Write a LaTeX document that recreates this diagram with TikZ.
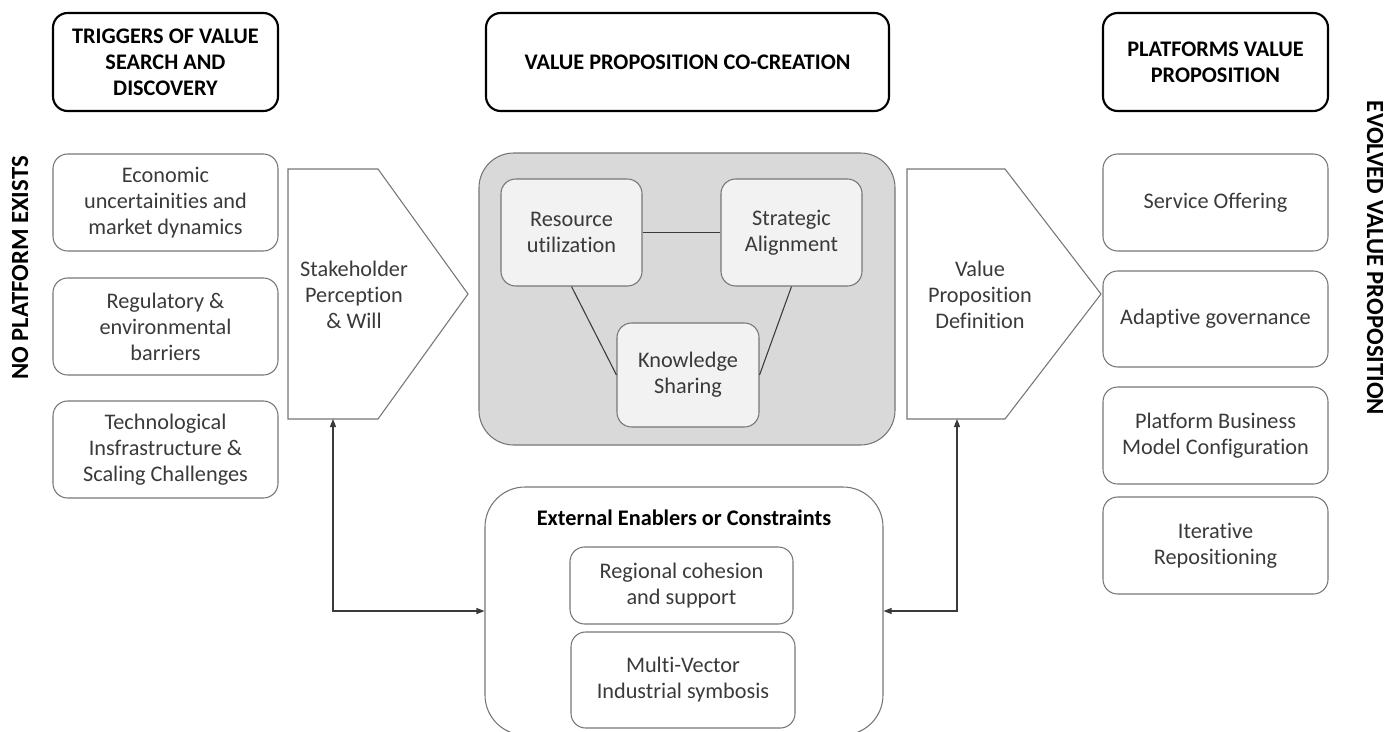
\documentclass[tikz,border=0pt]{standalone}
\usepackage{fontspec}
\setmainfont{Carlito}[Ligatures=NoCommon]
\usetikzlibrary{arrows.meta}
\definecolor{edge}{HTML}{767676}
\definecolor{txt}{HTML}{3A3A3A}
\definecolor{bigfill}{HTML}{D9D9D9}
\definecolor{smallfill}{HTML}{F2F2F2}
\begin{document}
\begin{tikzpicture}[x=0.75pt,y=-0.75pt,
  body/.style={font=\fontsize{16.7}{19.5}\selectfont},
  sz/.style 2 args={minimum width=#1*0.75pt, minimum height=#2*0.75pt},
  hdr/.style={draw=black, line width=1.6pt, rounded corners=11pt, inner sep=0pt, align=center,
    font=\fontsize{16.7}{19.5}\selectfont\bfseries, text=black},
  boxx/.style={draw=edge, line width=0.8pt, rounded corners=11pt, inner sep=0pt, align=center,
    text=txt, body},
  inbox/.style={boxx, fill=smallfill},
  pent/.style={draw=edge, line width=0.8pt, fill=white},
  side/.style={font=\fontsize{18.5}{22}\selectfont\bfseries, text=black},
  conn/.style={draw=txt, line width=0.8pt},
  arr/.style={conn, {Triangle[length=6pt,width=4.5pt]}-{Triangle[length=6pt,width=4.5pt]}}
]
\clip (0,0) rectangle (1397,732);

% headers
\node[hdr, sz={225}{98}] (h1) at (165.5,62) {TRIGGERS OF VALUE\\SEARCH AND\\DISCOVERY};
\node[hdr, sz={403}{98}] (h2) at (687.5,62) {VALUE PROPOSITION CO-CREATION};
\node[hdr, sz={225}{98}] (h3) at (1215.5,62) {PLATFORMS VALUE\\PROPOSITION};

% side labels
\node[side, rotate=90] (nope) at (20,268) {NO PLATFORM EXISTS};
\node[side, rotate=-90] (evo) at (1375,258) {EVOLVED VALUE PROPOSITION};

% left column
\node[boxx, sz={225}{97}] (l1) at (165.5,202.5) {Economic\\uncertainities and\\market dynamics};
\node[boxx, sz={225}{97}] (l2) at (165.5,326.5) {Regulatory \&\\environmental\\barriers};
\node[boxx, sz={225}{97}] (l3) at (165.5,449.5) {Technological\\Insfrastructure \&\\Scaling Challenges};

% stakeholder pentagon
\draw[pent] (288,169) -- (378,169) -- (468,294) -- (378,419) -- (288,419) -- cycle;
\node[body, text=txt, align=center] (sp) at (354,295) {Stakeholder\\Perception\\\& Will};
\coordinate (spb) at (333,419);

% central grey box
\node[draw=edge, line width=0.8pt, fill=bigfill, rounded corners=26pt, sz={416}{292}, inner sep=0pt] (core) at (687,299) {};
\node[inbox, sz={141}{107}] (res) at (571.5,232.5) {Resource\\utilization};
\node[inbox, sz={141}{107}] (str) at (791.5,232.5) {Strategic\\Alignment};
\node[inbox, sz={142}{104}] (kno) at (688,375) {Knowledge\\Sharing};
\draw[conn] (res.east) -- (str.west);
\draw[conn] (res.south) -- (kno.west);
\draw[conn] (str.south) -- (kno.east);

% value pentagon
\draw[pent] (907,169) -- (1005,169) -- (1101,294) -- (1005,419) -- (907,419) -- cycle;
\node[body, text=txt, align=center] (vp) at (980,295) {Value\\Proposition\\Definition};
\coordinate (vpb) at (957,419);

% right column
\node[boxx, sz={225}{97}] (r1) at (1215.5,202.5) {Service Offering};
\node[boxx, sz={225}{96}] (r2) at (1215.5,319) {Adaptive governance};
\node[boxx, sz={225}{97}] (r3) at (1215.5,435.5) {Platform Business\\Model Configuration};
\node[boxx, sz={225}{97}] (r4) at (1215.5,545.5) {Iterative\\Repositioning};

% external box
\node[boxx, rounded corners=30pt, sz={398}{248}] (ext) at (684,611) {};
\node[font=\fontsize{16.7}{19.5}\selectfont\bfseries, text=black] (extt) at (684,518) {External Enablers or Constraints};
\node[boxx, sz={223}{77}] (reg) at (681.5,585.5) {Regional cohesion\\and support};
\node[boxx, sz={224}{96}] (mv) at (683,680) {Multi-Vector\\Industrial symbosis};

% arrows
\draw[arr] (spb) |- (ext.west);
\draw[arr] (vpb) |- (ext.east);
\end{tikzpicture}
\end{document}
